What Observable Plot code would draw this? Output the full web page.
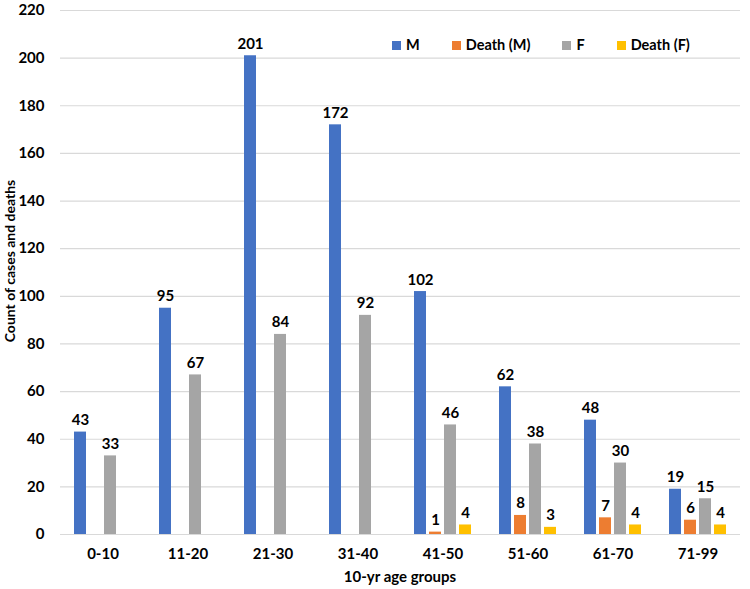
<!DOCTYPE html>
<html>
<head>
<meta charset="utf-8">
<script src="https://cdn.jsdelivr.net/npm/d3@7"></script>
<script src="https://cdn.jsdelivr.net/npm/@observablehq/plot@0.6"></script>
<style>
  html, body { margin: 0; padding: 0; background: #fff; }
  #chart { position: relative; width: 750px; height: 589px; }
  #legend { position: absolute; left: 392px; top: 36px; display: flex; gap: 32px;
    font-family: Lato, 'Open Sans', sans-serif; font-weight: bold; font-size: 14.5px; line-height: 18px; color: #000; }
  #legend .item { display: flex; align-items: center; gap: 5px; }
  #legend .sw { width: 9px; height: 9px; display: inline-block; }
</style>
</head>
<body>
<div id="chart"><div id="legend"></div></div>
<script>
const groups = ["0-10", "11-20", "21-30", "31-40", "41-50", "51-60", "61-70", "71-99"];
const series = ["M", "Death (M)", "F", "Death (F)"];
const colors = ["#4472C4", "#ED7D31", "#A5A5A5", "#FFC000"];
const M      = [43, 95, 201, 172, 102, 62, 48, 19];
const deathM = [0, 0, 0, 0, 1, 8, 7, 6];
const F      = [33, 67, 84, 92, 46, 38, 30, 15];
const deathF = [0, 0, 0, 0, 4, 3, 4, 4];
const yTicks = [0, 20, 40, 60, 80, 100, 120, 140, 160, 180, 200, 220];
const xTitle = "10-yr age groups";
const yTitle = "Count of cases and deaths";

const seriesValues = [M, deathM, F, deathF];
const data = groups.flatMap((g, i) => series.map((s, j) => ({group: g, series: s, value: seriesValues[j][i]})));
const shown = data.filter(d => d.value > 0);

const W = 750, H = 589, mL = 60, mR = 10, mT = 10, mB = 55;
const font = "Lato, 'Open Sans', sans-serif";

const chart = Plot.plot({
  width: W, height: H,
  marginLeft: mL, marginRight: mR, marginTop: mT, marginBottom: mB,
  style: {fontFamily: font, fontWeight: "bold", fontSize: "15px", color: "#000", background: "#fff"},
  fx: {domain: groups, padding: 0, label: null},
  x: {domain: series, axis: null, paddingInner: 0.22, paddingOuter: 0.88},
  y: {domain: [0, 220], label: null},
  color: {domain: series, range: colors},
  marks: [
    Plot.gridY(yTicks, {stroke: "#d9d9d9", strokeOpacity: 1, strokeWidth: 1.2}),
    Plot.axisY(yTicks, {tickSize: 0, tickPadding: 16, label: null, fontSize: 15}),
    Plot.axisFx({anchor: "bottom", tickSize: 0, tickPadding: 14, label: null, fontSize: 15}),
    Plot.barY(shown, {fx: "group", x: "series", y: "value", fill: "series"}),
    Plot.text(shown, {fx: "group", x: "series", y: "value", text: d => String(d.value),
      lineAnchor: "bottom", dy: -7, fontSize: 15, fontWeight: "bold", fill: "#000"})
  ]
});
const host = document.getElementById("chart");
host.insertBefore(chart, host.firstChild);

const svg = d3.select(chart);
svg.append("text")
  .attr("transform", `translate(15,261) rotate(-90)`)
  .attr("text-anchor", "middle")
  .attr("font-family", font).attr("font-weight", "bold").attr("font-size", 14)
  .text(yTitle);
svg.append("text")
  .attr("x", mL + (W - mL - mR) / 2).attr("y", 582)
  .attr("text-anchor", "middle")
  .attr("font-family", font).attr("font-weight", "bold").attr("font-size", 15)
  .text(xTitle);

const legend = d3.select("#legend");
series.forEach((s, i) => {
  const it = legend.append("div").attr("class", "item");
  it.append("span").attr("class", "sw").style("background", colors[i]);
  it.append("span").text(s);
});
</script>
</body>
</html>
